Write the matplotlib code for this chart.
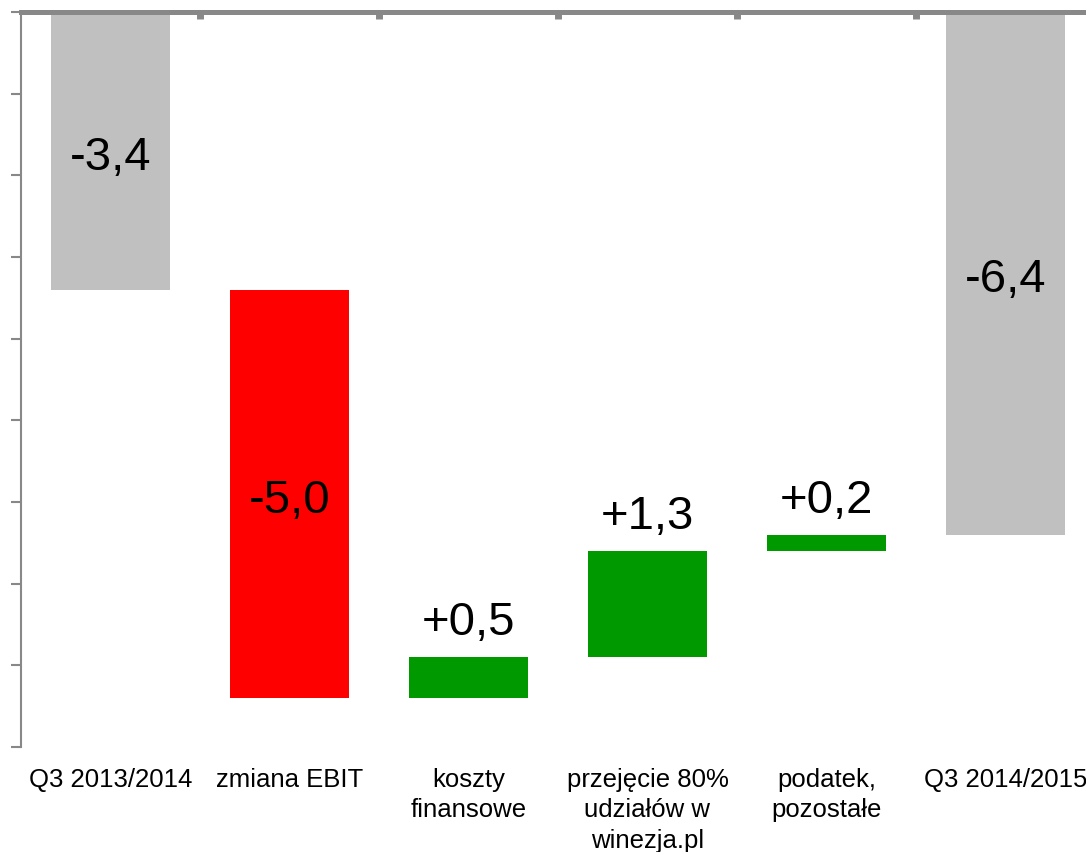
import numpy as np
import matplotlib
matplotlib.use('Agg')
import matplotlib.pyplot as plt

plt.rcParams['font.family'] = ['Liberation Sans', 'DejaVu Sans']

# dane: wynik netto Q3 i zmiany (mln zł)
categories = ['Q3 2013/2014', 'zmiana EBIT', 'koszty\nfinansowe',
              'przejęcie 80%\nudziałów w\nwinezja.pl', 'podatek,\npozostałe',
              'Q3 2014/2015']
start_val = -3.4
changes = [-5.0, 0.5, 1.3, 0.2]
end_val = -6.4
value_labels = ['-3,4', '-5,0', '+0,5', '+1,3', '+0,2', '-6,4']

GRAY = '#C0C0C0'
RED = '#FF0000'
GREEN = '#009900'
AXIS = '#888888'

# policz dolne/gorne krawedzie slupkow
levels = np.concatenate([[start_val], start_val + np.cumsum(changes)])
bottoms = [0.0]
heights = [start_val]
colors = [GRAY]
for i, c in enumerate(changes):
    bottoms.append(levels[i])
    heights.append(c)
    colors.append(RED if c < 0 else GREEN)
bottoms.append(0.0)
heights.append(end_val)
colors.append(GRAY)

fig = plt.figure(figsize=(10.86, 8.53), dpi=100)
ax = fig.add_axes([21 / 1086, 1 - 748 / 853, 1074 / 1086, (748 - 13) / 853])

x = np.arange(len(categories))
ax.bar(x, heights, bottom=bottoms, width=0.67, color=colors, zorder=2)

for xi, b, h, lab, col in zip(x, bottoms, heights, value_labels, colors):
    if col == GREEN:
        ax.text(xi, b + h + 0.16, lab, ha='center', va='bottom', fontsize=34)
    else:
        ax.text(xi, b + h / 2 - 0.07, lab, ha='center', va='center', fontsize=34)

ax.set_xlim(-0.5, len(categories) - 0.5)
ax.set_ylim(-9, 0)
ax.set_yticks(np.arange(-9, 1, 1))
ax.set_yticklabels([])
ax.tick_params(axis='y', direction='out', length=7, width=1.5, color=AXIS)

# os kategorii u gory (wartosc 0)
ax.xaxis.set_ticks_position('top')
ax.set_xticks(np.arange(0.5, len(categories) - 0.5, 1.0))
ax.set_xticklabels([])
ax.tick_params(axis='x', direction='in', length=5, width=5, color=AXIS)
for xi, lab in zip(x, categories):
    ax.text(xi, -9.25, lab, ha='center', va='top', fontsize=18.5,
            linespacing=1.32)

for s in ['right', 'bottom']:
    ax.spines[s].set_visible(False)
ax.spines['top'].set_color(AXIS)
ax.spines['top'].set_linewidth(3.6)
ax.spines['top'].set_zorder(3)
ax.spines['left'].set_color(AXIS)
ax.spines['left'].set_linewidth(1.5)

fig.savefig('out.png', dpi=100)
